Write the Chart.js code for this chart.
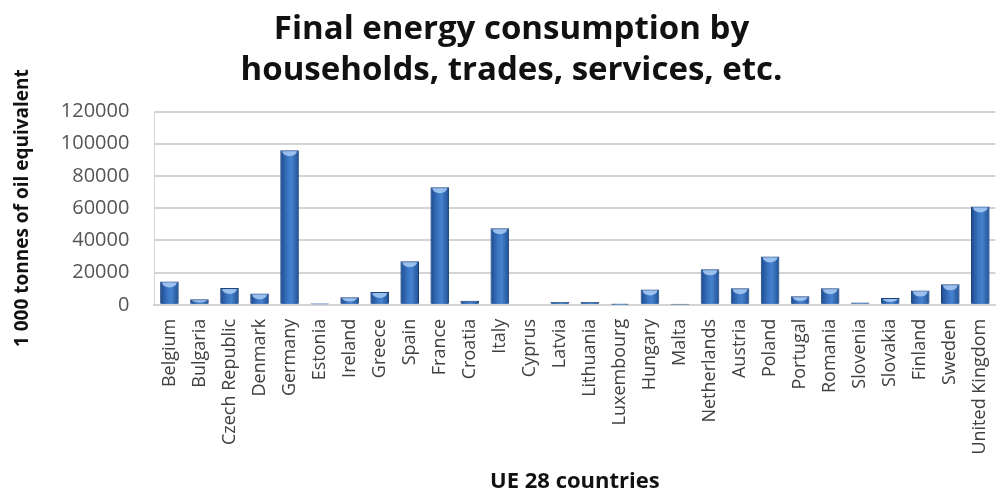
<!DOCTYPE html>
<html>
<head>
<meta charset="utf-8">
<script src="https://cdn.jsdelivr.net/npm/chart.js@4.4.1/dist/chart.umd.min.js"></script>
<style>
  html, body { margin: 0; padding: 0; background: #fff; overflow: hidden; width: 1007px; height: 495px; }
  #wrap { position: relative; width: 1016px; height: 495px; }
</style>
</head>
<body>
<div id="wrap"><canvas id="chart" width="1016" height="495"></canvas></div>
<script>
// EU-28 final energy consumption by households, trades, services, etc. (1 000 toe)
const countries = [
  'Belgium', 'Bulgaria', 'Czech Republic', 'Denmark', 'Germany', 'Estonia', 'Ireland',
  'Greece', 'Spain', 'France', 'Croatia', 'Italy', 'Cyprus', 'Latvia', 'Lithuania',
  'Luxembourg', 'Hungary', 'Malta', 'Netherlands', 'Austria', 'Poland', 'Portugal',
  'Romania', 'Slovenia', 'Slovakia', 'Finland', 'Sweden', 'United Kingdom'
];
const consumption = [
  14500, 3500, 10500, 7000, 96000, 1000, 4700,
  8000, 27000, 73000, 2500, 47500, 600, 1800, 1800,
  700, 9500, 100, 22000, 10300, 30000, 5300,
  10300, 1500, 4200, 8800, 12700, 61000
];
const yTickValues = [0, 20000, 40000, 60000, 80000, 100000, 120000];

const titleLines = ['Final energy consumption by', 'households, trades, services, etc.'];
const yTitle = '1 000 tonnes of oil equivalent';
const xTitle = 'UE 28 countries';

// Cylinder-like shading: dark edges, lighter centre, plus a light crescent on top
const shadingPlugin = {
  id: 'barShading',
  afterDatasetsDraw(chart) {
    const ctx = chart.ctx;
    const meta = chart.getDatasetMeta(0);
    meta.data.forEach((bar) => {
      const h = bar.base - bar.y;
      const w = bar.width;
      if (!Number.isFinite(bar.x) || h <= 0) return;
      const left = bar.x - w / 2;
      const g = ctx.createLinearGradient(left, 0, left + w, 0);
      g.addColorStop(0, '#1d4a8c');
      g.addColorStop(0.4, '#3b75c3');
      g.addColorStop(0.6, '#4682cd');
      g.addColorStop(1, '#1f4f93');
      ctx.save();
      ctx.fillStyle = g;
      ctx.fillRect(left + 1, bar.y + 1, w - 2, h - 1);
      if (h >= 4) {
        const capH = Math.min(5, h / 2);
        ctx.beginPath();
        ctx.ellipse(bar.x, bar.y + 1, w / 2 - 2, capH, 0, 0, Math.PI);
        ctx.fillStyle = 'rgba(170, 205, 245, 0.85)';
        ctx.fill();
      }
      ctx.restore();
    });
  }
};

const ctx = document.getElementById('chart').getContext('2d');
new Chart(ctx, {
  type: 'bar',
  data: {
    labels: countries,
    datasets: [{
      data: consumption,
      backgroundColor: '#2f64ad',
      borderColor: '#1b3f78',
      borderWidth: 1,
      barPercentage: 0.62,
      categoryPercentage: 1.0
    }]
  },
  options: {
    responsive: false,
    animation: false,
    devicePixelRatio: 1,
    layout: { padding: { left: 11, right: 4, top: 0, bottom: 0 } },
    plugins: {
      legend: { display: false },
      tooltip: { enabled: false },
      title: {
        display: true,
        text: titleLines,
        color: '#111111',
        font: { family: 'Open Sans', weight: 'bold', size: 33, lineHeight: 1.25 },
        padding: { top: 9, bottom: 20 }
      }
    },
    scales: {
      x: {
        grid: { display: false, drawTicks: false },
        border: { display: true, color: '#d4d4d4', width: 2 },
        ticks: {
          autoSkip: false,
          minRotation: 90,
          maxRotation: 90,
          color: '#404040',
          padding: 14,
          font: { family: 'Open Sans', size: 18 }
        },
        title: {
          display: true,
          text: xTitle,
          color: '#111111',
          font: { family: 'Open Sans', weight: 'bold', size: 22 },
          padding: { top: 0, bottom: 0 }
        }
      },
      y: {
        min: 0,
        max: 120000,
        afterBuildTicks(scale) { scale.ticks = yTickValues.map(v => ({ value: v })); },
        grid: { color: '#d4d4d4', lineWidth: 2, drawTicks: false },
        border: { display: true, color: '#d4d4d4', width: 1 },
        ticks: {
          color: '#555555',
          padding: 25,
          font: { family: 'Open Sans', size: 20 },
          callback: (v) => String(v)
        },
        title: {
          display: true,
          text: yTitle,
          color: '#111111',
          font: { family: 'Open Sans', weight: 'bold', size: 19 },
          padding: { top: 0, bottom: 2 }
        }
      }
    }
  },
  plugins: [shadingPlugin]
});
</script>
</body>
</html>
